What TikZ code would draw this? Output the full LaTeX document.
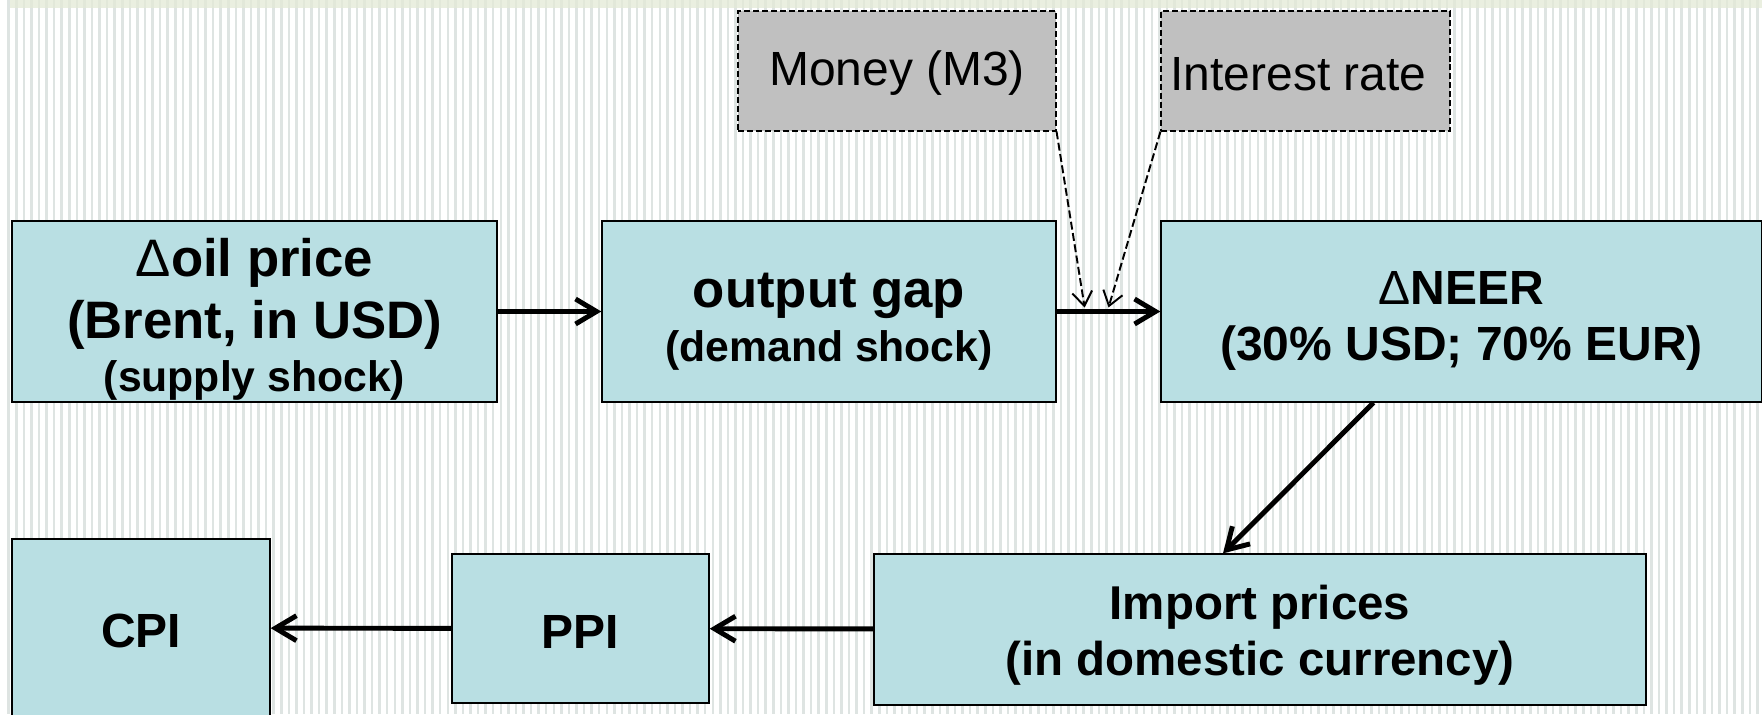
\documentclass[tikz,border=0pt]{standalone}
\usepackage{fontspec}
\setmainfont{Liberation Sans}
\usetikzlibrary{arrows.meta,calc}

\definecolor{boxfill}{HTML}{B9DFE3}
\definecolor{greyfill}{HTML}{C0C0C0}
\definecolor{stripe}{HTML}{DEE4E2}
\definecolor{band}{HTML}{E4EAD6}

\newcommand{\smalltxt}{\fontsize{24.3}{28.5}\selectfont}
\newcommand{\dlt}{{\mdseries Δ}}
\newcommand{\padtop}[1]{\rule{0pt}{#1}}

\begin{document}
\begin{tikzpicture}
            % background
            \useasboundingbox (0,0) rectangle (35.24,14.28);
            \fill[white] (0,0) rectangle (35.24,14.28);
            \foreach \i in {0,...,232}
                \fill[stripe] ({0.15+0.1514*\i},0) rectangle +(0.05,14.28);
            \fill[band, opacity=0.75] (0.2,14.11) rectangle (35.24,14.28);

            \begin{scope}[every node/.style={rectangle,draw=black,line width=0.75pt,fill=boxfill,inner sep=0pt,align=center}]
                \node (oil) [minimum width=9.7cm, minimum height=3.62cm, font=\bfseries\fontsize{30}{35}\selectfont] at (5.09, 8.05)
                    {\padtop{31pt}\dlt oil price\\(Brent, in USD)\\[-4.5pt]{\smalltxt (supply shock)}};
                \node (gap) [minimum width=9.08cm, minimum height=3.62cm, font=\bfseries\fontsize{30}{31}\selectfont] at (16.58, 8.05)
                    {\padtop{31pt}output gap\\{\smalltxt (demand shock)}};
                \node (neer) [minimum width=12.02cm, minimum height=3.62cm, font=\bfseries\fontsize{27.3}{32}\selectfont] at (29.23, 8.05)
                    {\padtop{29.5pt}\dlt NEER\\(30\% USD; 70\% EUR)};
                \node (cpi) [minimum width=5.16cm, minimum height=3.56cm, font=\bfseries\fontsize{27.3}{30}\selectfont] at (2.82, 1.72)
                    {\padtop{23pt}CPI};
                \node (ppi) [minimum width=5.14cm, minimum height=2.98cm, font=\bfseries\fontsize{27.3}{30}\selectfont] at (11.61, 1.71)
                    {\padtop{23pt}PPI};
                \node (imp) [minimum width=15.44cm, minimum height=3.02cm, font=\bfseries\fontsize{27}{31.5}\selectfont] at (25.2, 1.69)
                    {\padtop{26pt}Import prices\\(in domestic currency)};
            \end{scope}

            \begin{scope}[every node/.style={rectangle,draw=black,line width=0.6pt,dash pattern=on 3.4pt off 1.7pt,fill=greyfill,inner sep=0pt,font=\fontsize{27.3}{33}\selectfont}]
                \node (money) [minimum width=6.36cm, minimum height=2.4cm] at (17.94, 12.86) {\padtop{22pt}Money (M3)};
                \node (rate) [minimum width=5.78cm, minimum height=2.4cm] at (26.11, 12.86) {\padtop{22pt}Interest rate\kern0.28cm};
            \end{scope}

            \coordinate (mtip) at ($(gap.east)!0.27!(neer.west)+(0,0.08)$);
            \coordinate (rtip) at ($(gap.east)!0.5!(neer.west)+(0,0.08)$);

            \begin{scope}[every path/.style={line width=2.8pt,-{Straight Barb[length=0.42cm,width=0.5cm]}}]
                \draw (oil) -- (gap);
                \draw (gap) -- (neer);
                \draw ([xshift=-1.76cm]neer.south) -- ([xshift=-0.74cm]imp.north);
                \draw (imp) -- (ppi);
                \draw (ppi) -- (cpi);
            \end{scope}

            \begin{scope}[every path/.style={line width=1.1pt,dash pattern=on 4.5pt off 2pt,-{Straight Barb[length=0.28cm,width=0.4cm]}}]
                \draw (money.south east) -- (mtip);
                \draw (rate.south west) -- (rtip);
            \end{scope}
        \end{tikzpicture}
\end{document}
